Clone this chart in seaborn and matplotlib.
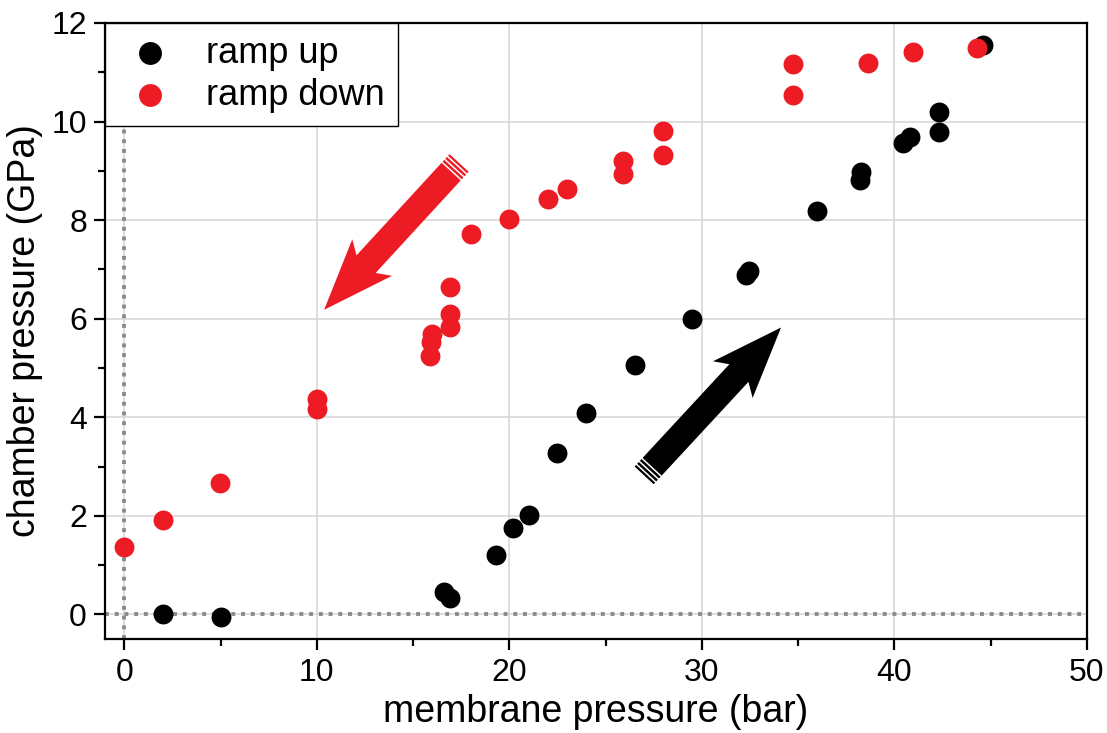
import numpy as np
import pandas as pd
import matplotlib
matplotlib.use("Agg")
import matplotlib.pyplot as plt
import seaborn as sns
from matplotlib.patches import Polygon
from matplotlib.ticker import MultipleLocator

# ---- data ----
up_x = [2.0, 5.0, 16.6, 16.9, 19.3, 20.2, 21.0, 22.5, 24.0, 26.5, 29.5, 32.3, 32.45,
        36.0, 38.2, 38.25, 40.45, 40.8, 42.3, 42.3, 44.6]
up_y = [0.0, -0.05, 0.45, 0.33, 1.20, 1.75, 2.01, 3.27, 4.08, 5.05, 5.99, 6.89, 6.96,
        8.18, 8.82, 8.97, 9.56, 9.68, 9.79, 10.19, 11.55]
down_x = [0.0, 2.0, 4.95, 10.0, 10.0, 15.9, 15.95, 16.0, 16.9, 16.9, 16.9, 18.0, 20.0,
          22.0, 23.0, 25.9, 25.9, 28.0, 28.0, 34.75, 34.75, 38.65, 40.95, 44.3]
down_y = [1.36, 1.91, 2.66, 4.38, 4.17, 5.24, 5.53, 5.68, 5.83, 6.09, 6.64, 7.72, 8.03,
          8.42, 8.63, 8.93, 9.20, 9.32, 9.80, 10.53, 11.16, 11.18, 11.41, 11.49]
series_labels = ["ramp up", "ramp down"]
series_colors = ["#000000", "#ED1C24"]

x_ticks = [0, 10, 20, 30, 40, 50]
y_ticks = [0, 2, 4, 6, 8, 10, 12]

# annotation arrows (tail, tip) in data coordinates
red_arrow = ((17.39, 9.16), (10.38, 6.18))
black_arrow = ((27.0, 2.82), (34.11, 5.82))

df = pd.concat([
    pd.DataFrame({"x": up_x, "y": up_y, "series": series_labels[0]}),
    pd.DataFrame({"x": down_x, "y": down_y, "series": series_labels[1]}),
], ignore_index=True)

sns.set_theme(style="white")
plt.rcParams["font.family"] = ["Liberation Sans", "DejaVu Sans"]
plt.rcParams["text.color"] = "black"
plt.rcParams["axes.labelcolor"] = "black"
plt.rcParams["xtick.color"] = "black"
plt.rcParams["ytick.color"] = "black"
plt.rcParams["legend.labelcolor"] = "black"

fig = plt.figure(figsize=(11.07, 7.33), dpi=100)
ax = fig.add_axes([105 / 1107, 1 - 639 / 733, (1087 - 105) / 1107, (639 - 23) / 733])

ax.set_xlim(-1, 50)
ax.set_ylim(-0.5, 12)

ax.grid(True, which="major", color="#d4d4d4", linewidth=1.1, zorder=0)
ax.set_axisbelow(True)

ax.axhline(0, color="#8a8a8a", linewidth=2.8, linestyle=(0, (1, 1.5)), zorder=1)
ax.axvline(0, color="#8a8a8a", linewidth=2.8, linestyle=(0, (1, 1.5)), zorder=1)

for lab, col in zip(series_labels, series_colors):
    sub = df[df["series"] == lab]
    sns.scatterplot(data=sub, x="x", y="y", color=col, s=205, linewidth=0,
                    label=lab, ax=ax, zorder=3)

fig.canvas.draw()


def draw_arrow(tail, tip, color):
    T = ax.transData
    p0 = T.transform(tail)
    p1 = T.transform(tip)
    d = p1 - p0
    L = np.hypot(*d)
    u = d / L
    n = np.array([-u[1], u[0]])
    sw, hw, hl, notch = 13.0, 27.0, 62.0, 9.0
    base = p1 - u * hl
    pts = [
        p0 + n * sw,
        base + n * sw,
        base + n * hw - u * notch,
        p1,
        base - n * hw - u * notch,
        base - n * sw,
        p0 - n * sw,
    ]
    pts_data = T.inverted().transform(np.array(pts))
    ax.add_patch(Polygon(pts_data, closed=True, facecolor=color, edgecolor="none", zorder=2))
    # white stripes near the tail
    for off in (3.0, 7.0, 11.0):
        a = p0 + u * off + n * (sw + 1)
        b = p0 + u * off - n * (sw + 1)
        ab = T.inverted().transform(np.array([a, b]))
        ax.plot(ab[:, 0], ab[:, 1], color="white", linewidth=1.1, zorder=2.5,
                solid_capstyle="butt")


draw_arrow(red_arrow[0], red_arrow[1], series_colors[1])
draw_arrow(black_arrow[0], black_arrow[1], series_colors[0])

ax.xaxis.set_major_locator(MultipleLocator(10))
ax.xaxis.set_minor_locator(MultipleLocator(5))
ax.yaxis.set_major_locator(MultipleLocator(2))
ax.yaxis.set_minor_locator(MultipleLocator(1))
ax.set_xticks(x_ticks)
ax.set_yticks(y_ticks)
ax.set_xticklabels([str(v) for v in x_ticks])
ax.set_yticklabels([str(v) for v in y_ticks])

ax.tick_params(which="major", direction="out", length=8, width=1.6, labelsize=23,
               pad=5, colors="black", bottom=True, left=True)
ax.tick_params(which="minor", direction="out", length=5, width=1.6,
               bottom=True, left=True, colors="black")
ax.tick_params(axis="x", which="major", pad=6)

for sp in ax.spines.values():
    sp.set_visible(True)
    sp.set_color("black")
    sp.set_linewidth(1.6)

ax.set_xlabel("membrane pressure (bar)", fontsize=27, labelpad=4, color="black")
ax.set_ylabel("chamber pressure (GPa)", fontsize=27, labelpad=6, color="black")

leg = ax.legend(loc="upper left", borderaxespad=0, fontsize=26, frameon=True,
                fancybox=False, framealpha=1, edgecolor="black",
                handlelength=1.8, handletextpad=0.65, labelspacing=0.2,
                borderpad=0.35, markerscale=1.15)
leg.get_frame().set_linewidth(1.0)
leg.set_zorder(5)
for t in leg.get_texts():
    t.set_color("black")

fig.savefig("out.png", dpi=100, facecolor="white")
